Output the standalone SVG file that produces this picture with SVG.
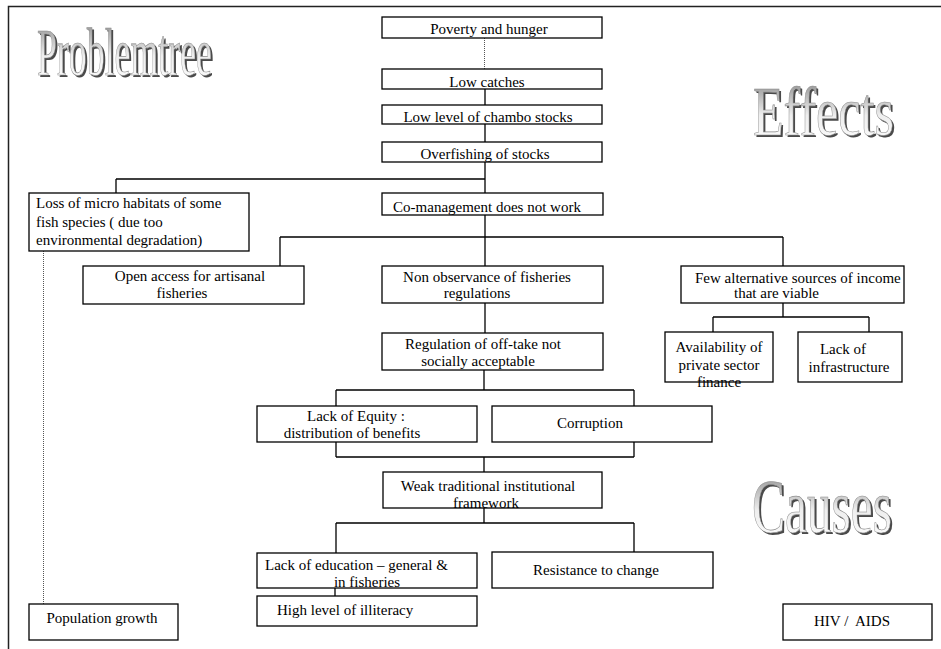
<svg xmlns="http://www.w3.org/2000/svg" width="941" height="649" viewBox="0 0 941 649">
<defs>
<linearGradient id="wa" x1="0" y1="0" x2="0" y2="1">
<stop offset="0" stop-color="#7a7a7a"/>
<stop offset="0.55" stop-color="#eeeeee"/>
<stop offset="1" stop-color="#ffffff"/>
</linearGradient>
<style>
.b{fill:#fff;stroke:#000;stroke-width:1.3}
.t{font-family:"Liberation Serif","Times New Roman",serif;font-size:15px;fill:#000}
.m{text-anchor:middle}
.c{fill:none;stroke:#000;stroke-width:1.3}
.d{fill:none;stroke:#555;stroke-width:1;stroke-dasharray:1 1}
.wa{font-family:"Liberation Serif","Times New Roman",serif;fill:url(#wa);stroke:#8a8a8a;stroke-width:0.6}
.ws{font-family:"Liberation Serif","Times New Roman",serif;fill:#4a4a4a}
</style>
</defs>
<rect width="941" height="649" fill="#fff"/>
<path d="M8.5,649 V6.5 H941" fill="none" stroke="#222" stroke-width="1.5"/>

<g id="title-problemtree">
<text class="ws" x="39" y="77" font-size="68" textLength="175" lengthAdjust="spacingAndGlyphs">Problemtree</text>
<text class="wa" x="37" y="75" font-size="68" textLength="175" lengthAdjust="spacingAndGlyphs">Problemtree</text>
</g>
<g id="title-effects">
<text class="ws" x="755" y="137" font-size="70" textLength="141" lengthAdjust="spacingAndGlyphs">Effects</text>
<text class="wa" x="753" y="135" font-size="70" textLength="141" lengthAdjust="spacingAndGlyphs">Effects</text>
</g>
<g id="title-causes">
<text class="ws" x="754" y="534" font-size="76" textLength="140" lengthAdjust="spacingAndGlyphs">Causes</text>
<text class="wa" x="752" y="532" font-size="76" textLength="140" lengthAdjust="spacingAndGlyphs">Causes</text>
</g>

<g id="connectors">
<path class="d" d="M484.5,38 V69"/>
<path class="c" d="M485,89 V105 M485,124 V142 M485,162 V193 M116,179 H485 M116,179 V193"/>
<path class="c" d="M485,215 V266 M280,237 H783 M280,237 V266 M783,237 V266"/>
<path class="c" d="M485,303 V333"/>
<path class="c" d="M783,303 V317 M713,317 H869 M713,317 V332 M869,317 V332"/>
<path class="c" d="M484,370 V390 M336,390 H634 M336,390 V406 M634,390 V406"/>
<path class="c" d="M336,442 V457 M634,442 V457 M336,457 H634 M484,457 V472"/>
<path class="c" d="M484,508 V523 M336,523 H634 M336,523 V553 M634,523 V552"/>
<path class="c" d="M335,588 V596"/>
<path class="d" d="M43.5,251 V604"/>
</g>

<g id="n-poverty"><rect class="b" x="382" y="17" width="220" height="21"/><text class="t m" x="489" y="34">Poverty and hunger</text></g>
<g id="n-lowcatches"><rect class="b" x="382" y="69" width="220" height="20"/><text class="t m" x="487" y="87">Low catches</text></g>
<g id="n-lowlevel"><rect class="b" x="382" y="105" width="220" height="19"/><text class="t m" x="488" y="122">Low level of chambo stocks</text></g>
<g id="n-overfishing"><rect class="b" x="382" y="142" width="220" height="20"/><text class="t m" x="485" y="159">Overfishing of stocks</text></g>
<g id="n-loss"><rect class="b" x="29" y="193" width="220" height="58"/>
<text class="t" x="36" y="208">Loss of micro habitats of some</text>
<text class="t" x="36" y="227">fish species ( due too</text>
<text class="t" x="36" y="245">environmental degradation)</text></g>
<g id="n-comanagement"><rect class="b" x="382" y="193" width="221" height="22"/><text class="t m" x="487" y="212">Co-management does not work</text></g>
<g id="n-openaccess"><rect class="b" x="83" y="266" width="221" height="38"/>
<text class="t m" x="190" y="281">Open access for artisanal</text>
<text class="t m" x="182" y="298">fisheries</text></g>
<g id="n-nonobservance"><rect class="b" x="382" y="266" width="221" height="37"/>
<text class="t m" x="487" y="282">Non observance of fisheries</text>
<text class="t m" x="477" y="298">regulations</text></g>
<g id="n-fewalternative"><rect class="b" x="681" y="266" width="223" height="37"/>
<text class="t" x="695" y="283">Few alternative sources of income</text>
<text class="t" x="734" y="298">that are viable</text></g>
<g id="n-availability"><rect class="b" x="665" y="332" width="108" height="50"/>
<text class="t m" x="719" y="352">Availability of</text>
<text class="t m" x="719" y="370">private sector</text>
<text class="t m" x="719" y="387">finance</text></g>
<g id="n-infrastructure"><rect class="b" x="798" y="332" width="104" height="50"/>
<text class="t m" x="843" y="354">Lack of</text>
<text class="t m" x="849" y="372">infrastructure</text></g>
<g id="n-regulation"><rect class="b" x="382" y="333" width="221" height="37"/>
<text class="t" x="405" y="349">Regulation of off-take not</text>
<text class="t m" x="478" y="366">socially acceptable</text></g>
<g id="n-equity"><rect class="b" x="257" y="406" width="220" height="36"/>
<text class="t m" x="356" y="421">Lack of Equity :</text>
<text class="t m" x="352" y="438">distribution of benefits</text></g>
<g id="n-corruption"><rect class="b" x="492" y="406" width="220" height="36"/>
<text class="t m" x="590" y="428">Corruption</text></g>
<g id="n-weak"><rect class="b" x="383" y="472" width="219" height="36"/>
<text class="t m" x="488" y="491">Weak traditional institutional</text>
<text class="t m" x="486" y="508">framework</text></g>
<g id="n-education"><rect class="b" x="257" y="553" width="220" height="35"/>
<text class="t" x="265" y="570">Lack of education – general &amp;</text>
<text class="t m" x="367" y="587">in fisheries</text></g>
<g id="n-illiteracy"><rect class="b" x="257" y="596" width="220" height="30"/>
<text class="t" x="277" y="615">High level of illiteracy</text></g>
<g id="n-resistance"><rect class="b" x="492" y="552" width="221" height="36"/>
<text class="t m" x="596" y="575">Resistance to change</text></g>
<g id="n-population"><rect class="b" x="29" y="604" width="149" height="36"/>
<text class="t m" x="102" y="623">Population growth</text></g>
<g id="n-hiv"><rect class="b" x="783" y="604" width="149" height="36"/>
<text class="t m" x="852" y="626" style="white-space:pre">HIV /  AIDS</text></g>
</svg>
